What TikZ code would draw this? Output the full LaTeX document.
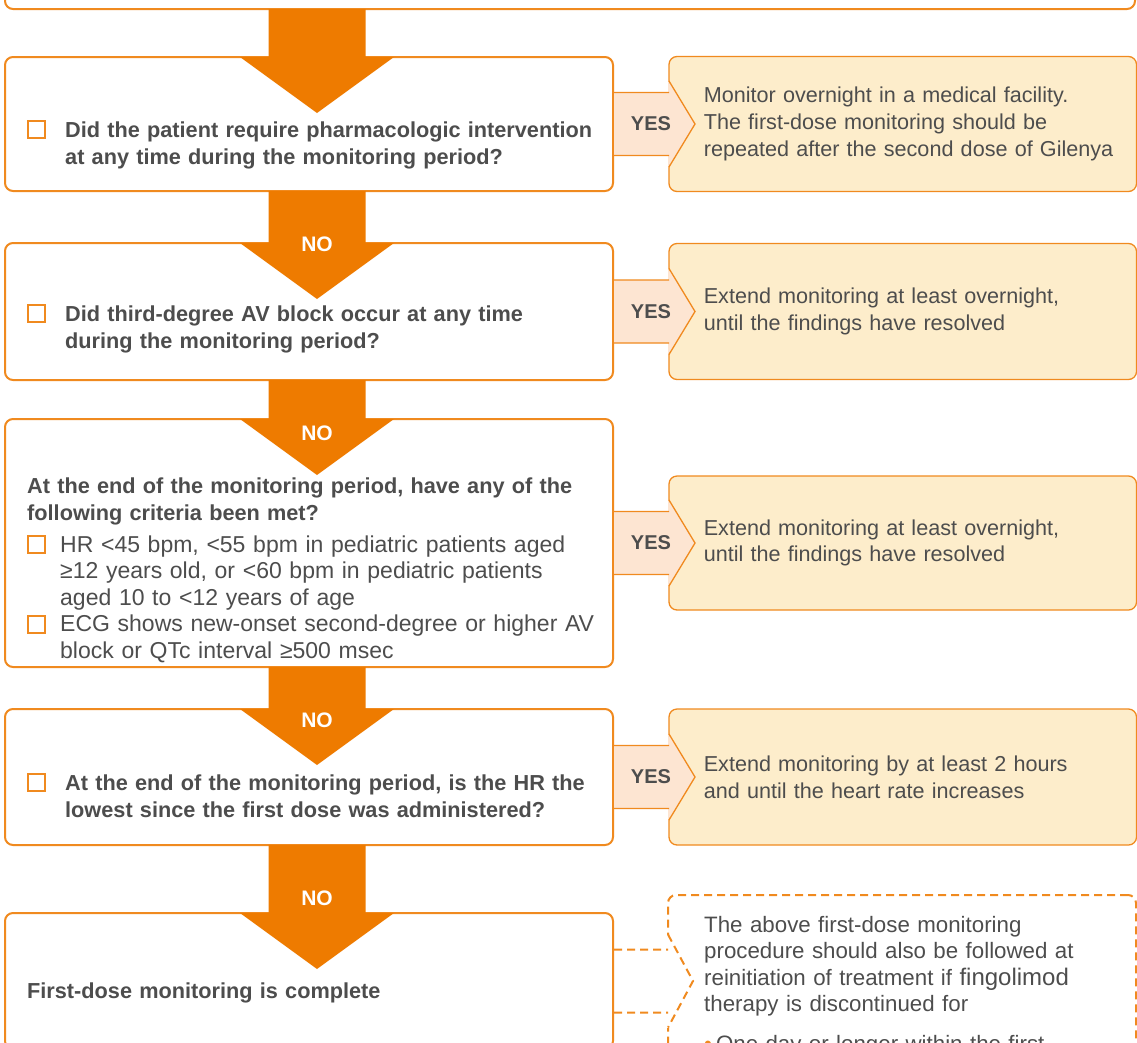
\documentclass[tikz,border=0pt]{standalone}
\usepackage{fontspec}
\setmainfont{Liberation Sans}
\usetikzlibrary{positioning,calc}

\definecolor{arroworange}{HTML}{EE7B00}
\definecolor{boxorange}{HTML}{F08A1F}
\definecolor{yesfill}{HTML}{FDEDCB}
\definecolor{tabfill}{HTML}{FDE5D2}
\definecolor{textgray}{HTML}{4D4D4D}

\newcommand\qfont{\fontsize{21.7pt}{27pt}\selectfont\bfseries}
\newcommand\bodyfont{\fontsize{22.3pt}{26.6pt}\selectfont}

\tikzset{
qbox/.style={
  rectangle,
  rounded corners=8pt,
  draw=boxorange,
  line width=2pt,
  fill=white,
  minimum width=608pt,
  outer sep=0pt,
  inner sep=0pt,
},
ybox/.style={
  rectangle,
  rounded corners=8pt,
  draw=boxorange,
  line width=1.3pt,
  fill=yesfill,
  minimum width=467.5pt,
  outer sep=0pt,
  inner sep=0pt,
},
qtext/.style={
  anchor=base west,
  inner sep=0pt,
  text width=600pt,
  align=left,
  font=\qfont,
  text=textgray,
},
btext/.style={qtext, font=\bodyfont},
ytext/.style={btext, text width=440pt, font=\fontsize{21.6pt}{26.6pt}\selectfont},
ctext/.style={btext, font=\fontsize{23pt}{26.5pt}\selectfont},
chk/.style={
  draw=boxorange,
  line width=2pt,
  minimum size=17pt,
  inner sep=0pt,
  anchor=south west,
},
nolabel/.style={text=white, inner sep=0pt, font=\fontsize{21pt}{21pt}\selectfont\bfseries},
yeslabel/.style={text=textgray, inner sep=0pt, font=\fontsize{20pt}{20pt}\selectfont\bfseries},
fat/.style={fill=arroworange},
tabline/.style={draw=boxorange, line width=1.3pt},
dashline/.style={draw=boxorange, line width=2pt, dash pattern=on 8pt off 5pt},
}

% fat orange arrow from one box into the next
\newcommand\flowstep[3]{%
  \fill[fat] let \p1=(#1.south -| axis), \p2=(#2.north -| axis) in
    (\x1-48.5pt,\y1) -- (\x1+48.5pt,\y1) -- (\x1+48.5pt,\y2) -- (\x1+77pt,\y2)
    -- (\x1,\y2-56pt) -- (\x1-77pt,\y2) -- (\x1-48.5pt,\y2) -- cycle;
  \if\relax\detokenize{#3}\relax\else
    \path let \p1=(#1.south -| axis) in node[nolabel] (no#2) at (\x1,\y1-53pt) {#3};
  \fi
}

% YES tab between a question and its answer box
\newcommand\yestab[2]{%
  \fill[tabfill] let \p1=(#1.east), \p2=(#2.west) in
    (\x1+1pt,\y1+31.5pt) -- (\x2-1pt,\y1+31.5pt) -- (\x2-1pt,\y1+43pt) -- (\x2+26pt,\y1)
    -- (\x2-1pt,\y1-43pt) -- (\x2-1pt,\y1-31.5pt) -- (\x1+1pt,\y1-31.5pt) -- cycle;
  \draw[tabline] let \p1=(#1.east), \p2=(#2.west) in
    (\x1,\y1+31.5pt) -- (\x2,\y1+31.5pt)
    (\x1,\y1-31.5pt) -- (\x2,\y1-31.5pt)
    (\x2,\y1+43pt) -- (\x2+26pt,\y1) -- (\x2,\y1-43pt);
  \path let \p1=(#1.east) in node[yeslabel] (yes#1) at (\x1+38pt,\y1) {YES};
}

\begin{document}
\begin{tikzpicture}[x=1pt,y=-1pt]
\useasboundingbox (0,0) rectangle (1137,1042);
\clip (0,0) rectangle (1137,1042);
\coordinate (axis) at (317,0);

\node[qbox, minimum width=1130pt, minimum height=100pt, anchor=south west] (top) at (5,9) {};
\node[qbox, minimum height=134pt, anchor=north west] (q1) at (5,57) {};
\node[qbox, minimum height=137pt, below=52pt of q1] (q2) {};
\node[qbox, minimum height=248pt, below=39pt of q2] (q3) {};
\node[qbox, minimum height=136pt, below=42pt of q3] (q4) {};
\node[qbox, minimum height=136pt, below=68pt of q4] (q5) {};

\node[ybox, minimum height=135pt, right=56pt of q1] (r1) {};
\node[ybox, minimum height=136pt, right=56pt of q2] (r2) {};
\node[ybox, minimum height=134pt, right=56pt of q3] (r3) {};
\node[ybox, minimum height=136pt, right=56pt of q4] (r4) {};
\node[qbox, dashline, fill=none, minimum width=468pt, minimum height=250pt, anchor=north west] (note) at (668,895) {};

\yestab{q1}{r1}
\yestab{q2}{r2}
\yestab{q3}{r3}
\yestab{q4}{r4}

% dashed tab to the note
\fill[white] let \p1=(q5.east), \p2=(note.west) in
  (\x2-2pt,\y1+46.5pt) rectangle (\x2+2pt,\y1-46.5pt);
\draw[dashline] let \p1=(q5.east), \p2=(note.west) in
  (\x1+1pt,\y1+31.5pt) -- (\x2,\y1+31.5pt)
  (\x1+1pt,\y1-31.5pt) -- (\x2,\y1-31.5pt)
  (\x2,\y1+46.5pt) -- (\x2+25pt,\y1) -- (\x2,\y1-46.5pt);

\flowstep{top}{q1}{}
\flowstep{q1}{q2}{NO}
\flowstep{q2}{q3}{NO}
\flowstep{q3}{q4}{NO}
\flowstep{q4}{q5}{NO}

\node[ytext, anchor=west, right=34.6pt of r1.west] (y1)
  {Monitor overnight in a medical facility.\\The first-dose monitoring should be\\repeated after the second dose of Gilenya};
\node[ytext, anchor=west, right=34.6pt of r2.west] (y2)
  {Extend monitoring at least overnight,\\until the findings have resolved};
\node[ytext, anchor=west, right=34.6pt of r3.west] (y3)
  {Extend monitoring at least overnight,\\until the findings have resolved};
\node[ytext, anchor=west, right=34.6pt of r4.west] (y4)
  {Extend monitoring by at least 2 hours\\and until the heart rate increases};

\node[qtext] (t1) at ([shift={(60,80)}]q1.north west)
  {Did the patient require pharmacologic intervention\\at any time during the monitoring period?};
\node[chk] (c1) at ([shift={(-38,2)}]t1.base west) {};
\node[qtext] (t2) at ([shift={(60,78)}]q2.north west)
  {Did third-degree AV block occur at any time\\during the monitoring period?};
\node[chk] (c2) at ([shift={(-38,2)}]t2.base west) {};
\node[qtext] (t3) at ([shift={(22,74)}]q3.north west)
  {At the end of the monitoring period, have any of the\\following criteria been met?};
\node[ctext] (t3a) at ([shift={(55,133)}]q3.north west)
  {HR <45 bpm, <55 bpm in pediatric patients aged\\≥12 years old, or <60 bpm in pediatric patients\\aged 10 to <12 years of age};
\node[chk] (c3a) at ([shift={(-33,2)}]t3a.base west) {};
\node[ctext] (t3b) at ([shift={(55,212.5)}]q3.north west)
  {ECG shows new-onset second-degree or higher AV\\block or QTc interval ≥500 msec};
\node[chk] (c3b) at ([shift={(-33,2)}]t3b.base west) {};
\node[qtext] (t4) at ([shift={(60,81)}]q4.north west)
  {At the end of the monitoring period, is the HR the\\lowest since the first dose was administered?};
\node[chk] (c4) at ([shift={(-38,2)}]t4.base west) {};
\node[qtext] (t5) at ([shift={(22,85)}]q5.north west)
  {First-dose monitoring is complete};

\node[btext, text width=430pt] (tn) at ([shift={(36,37)}]note.north west)
  {The above first-dose monitoring\\procedure should also be followed at\\reinitiation of treatment if {\fontsize{24pt}{26.6pt}\selectfont fingolimod}\\therapy is discontinued for\\[13pt]
   \textcolor{boxorange}{•}\hspace{4pt}One day or longer within the first};
\end{tikzpicture}
\end{document}
